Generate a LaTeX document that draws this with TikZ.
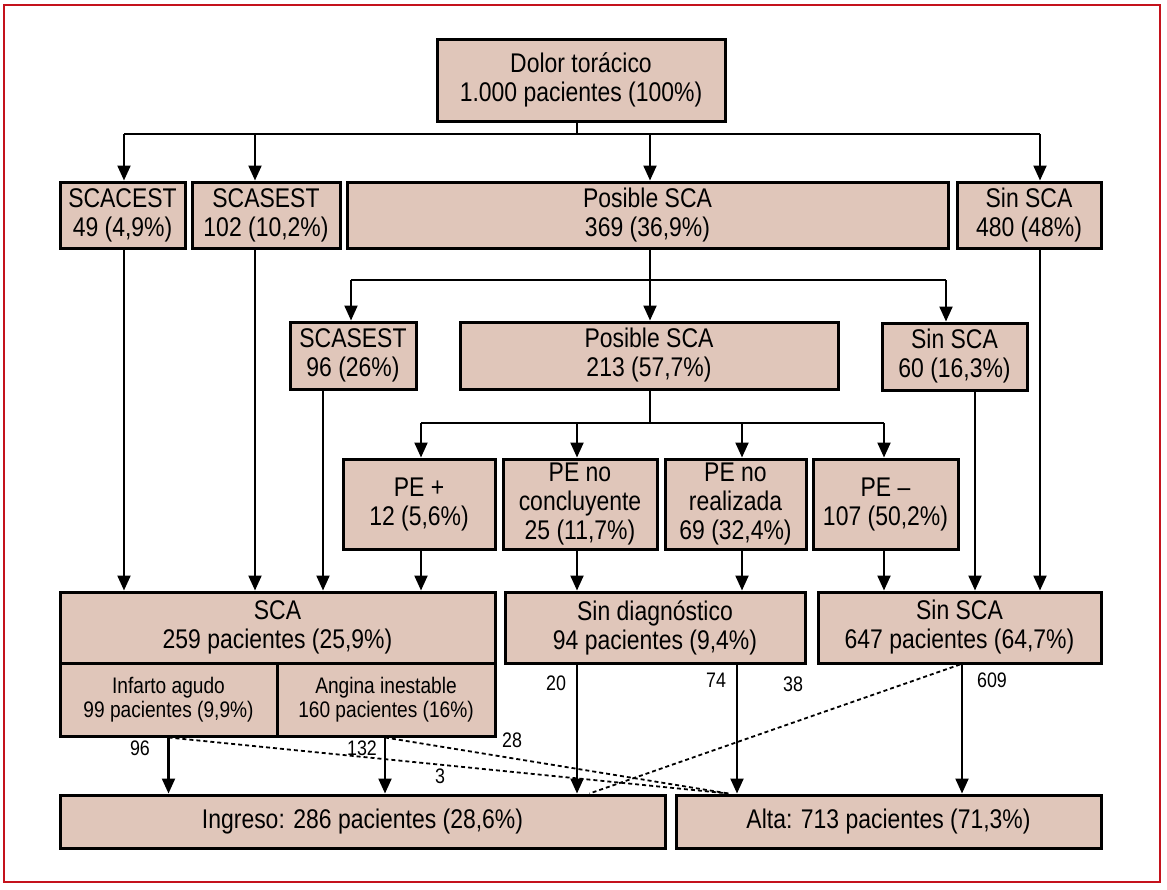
\documentclass[tikz,border=0pt]{standalone}
\usepackage{fontspec}
\setmainfont{Liberation Sans}[FakeStretch=0.85]
\usetikzlibrary{arrows.meta}
\definecolor{boxfill}{RGB}{224,198,186}
\definecolor{frame}{RGB}{196,18,28}
\begin{document}
\begin{tikzpicture}[x=1pt,y=-1pt,
  box/.style={draw=black,fill=boxfill,line width=3pt,inner sep=0pt,align=center,
    font=\fontsize{27}{29}\selectfont},
  subbox/.style={box,font=\fontsize{22.5}{24}\selectfont},
  line/.style={line width=2.2pt},
  arr/.style={line width=2.2pt,-{Triangle[width=13pt,length=15pt]}},
  dashline/.style={line width=1.8pt,dash pattern=on 4pt off 3pt},
  lbl/.style={inner sep=0pt,font=\fontsize{21}{22}\selectfont}]
\useasboundingbox (0,0) rectangle (1167,889);
\draw[frame,line width=2.2pt] (4,5) rectangle (1160,882);

% row 1
\node[box,minimum width=288pt,minimum height=82pt] (dolor) at (581,80) {Dolor torácico\\1.000 pacientes (100\%)};
% row 2
\node[box,minimum width=125pt,minimum height=66pt] (scacest) at (122.5,215) {SCACEST\\49 (4,9\%)};
\node[box,minimum width=148pt,minimum height=66pt] (scasestA) at (266,215) {SCASEST\\102 (10,2\%)};
\node[box,minimum width=601pt,minimum height=66pt] (posA) at (647.5,215) {Posible SCA\\369 (36,9\%)};
\node[box,minimum width=144pt,minimum height=66pt] (sinA) at (1029,215) {Sin SCA\\480 (48\%)};
% row 3
\node[box,minimum width=126pt,minimum height=67pt] (scasestB) at (353,355.5) {SCASEST\\96 (26\%)};
\node[box,minimum width=378pt,minimum height=67pt] (posB) at (649,355.5) {Posible SCA\\213 (57,7\%)};
\node[box,minimum width=145pt,minimum height=67pt] (sinB) at (954.5,356.5) {Sin SCA\\60 (16,3\%)};
% row 4
\node[box,minimum width=152pt,minimum height=90pt] (pe1) at (419,504) {PE +\\12 (5,6\%)};
\node[box,minimum width=154pt,minimum height=90pt] (pe2) at (580,504) {PE no\\concluyente\\25 (11,7\%)};
\node[box,minimum width=141pt,minimum height=90pt] (pe3) at (735.5,504) {PE no\\realizada\\69 (32,4\%)};
\node[box,minimum width=145pt,minimum height=90pt] (pe4) at (885.5,504) {PE --\\107 (50,2\%)};
% row 5
\node[box,minimum width=435pt,minimum height=71pt] (sca) at (277.5,627.5) {SCA\\259 pacientes (25,9\%)};
\node[subbox,minimum width=217pt,minimum height=73pt] (infarto) at (168.5,699.5) {Infarto agudo\\99 pacientes (9,9\%)};
\node[subbox,minimum width=218pt,minimum height=73pt] (angina) at (386,699.5) {Angina inestable\\160 pacientes (16\%)};
\node[box,minimum width=300pt,minimum height=71pt] (sindiag) at (655,627.5) {Sin diagnóstico\\94 pacientes (9,4\%)};
\node[box,minimum width=283pt,minimum height=71pt] (sinC) at (959.5,627.5) {Sin SCA\\647 pacientes (64,7\%)};
% row 6
\node[box,minimum width=605pt,minimum height=53pt] (ingreso) at (362.5,821.5) {Ingreso: 286 pacientes (28,6\%)};
\node[box,minimum width=425pt,minimum height=53pt] (alta) at (888.5,821.5) {Alta: 713 pacientes (71,3\%)};

% buses
\coordinate (bus1) at (0,134);
\coordinate (bus2) at (0,280);
\coordinate (bus3) at (0,423);

% level 1 -> 2
\draw[line] ([xshift=-4pt]dolor.south) -- ([xshift=-4pt]dolor.south |- bus1);
\draw[line] ([xshift=1.5pt]scacest.north |- bus1) -- ([xshift=11pt]sinA.north |- bus1);
\draw[arr] ([xshift=1.5pt]scacest.north |- bus1) -- ([xshift=1.5pt]scacest.north);
\draw[arr] ([xshift=-11pt]scasestA.north |- bus1) -- ([xshift=-11pt]scasestA.north);
\draw[arr] ([xshift=2.5pt]posA.north |- bus1) -- ([xshift=2.5pt]posA.north);
\draw[arr] ([xshift=11pt]sinA.north |- bus1) -- ([xshift=11pt]sinA.north);

% level 2 -> 3
\draw[line] ([xshift=2.5pt]posA.south) -- ([xshift=2.5pt]posA.south |- bus2);
\draw[line] ([xshift=-2pt]scasestB.north |- bus2) -- ([xshift=-8.5pt]sinB.north |- bus2);
\draw[arr] ([xshift=-2pt]scasestB.north |- bus2) -- ([xshift=-2pt]scasestB.north);
\draw[arr] ([xshift=1pt]posB.north |- bus2) -- ([xshift=1pt]posB.north);
\draw[arr] ([xshift=-8.5pt]sinB.north |- bus2) -- ([xshift=-8.5pt]sinB.north);

% level 3 -> 4
\draw[line] ([xshift=1pt]posB.south) -- ([xshift=1pt]posB.south |- bus3);
\draw[line] ([xshift=2pt]pe1.north |- bus3) -- ([xshift=-1.5pt]pe4.north |- bus3);
\draw[arr] ([xshift=2pt]pe1.north |- bus3) -- ([xshift=2pt]pe1.north);
\draw[arr] ([xshift=-3pt]pe2.north |- bus3) -- ([xshift=-3pt]pe2.north);
\draw[arr] ([xshift=6.5pt]pe3.north |- bus3) -- ([xshift=6.5pt]pe3.north);
\draw[arr] ([xshift=-1.5pt]pe4.north |- bus3) -- ([xshift=-1.5pt]pe4.north);

% down to row 5
\draw[arr] ([xshift=1.5pt]scacest.south) -- ([xshift=1.5pt]scacest.south |- sca.north);
\draw[arr] ([xshift=-11pt]scasestA.south) -- ([xshift=-11pt]scasestA.south |- sca.north);
\draw[arr] ([xshift=-30pt]scasestB.south) -- ([xshift=-30pt]scasestB.south |- sca.north);
\draw[arr] ([xshift=2pt]pe1.south) -- ([xshift=2pt]pe1.south |- sca.north);
\draw[arr] ([xshift=-3pt]pe2.south) -- ([xshift=-3pt]pe2.south |- sindiag.north);
\draw[arr] ([xshift=6.5pt]pe3.south) -- ([xshift=6.5pt]pe3.south |- sindiag.north);
\draw[arr] ([xshift=-1.5pt]pe4.south) -- ([xshift=-1.5pt]pe4.south |- sinC.north);
\draw[arr] ([xshift=20.5pt]sinB.south) -- ([xshift=20.5pt]sinB.south |- sinC.north);
\draw[arr] ([xshift=11pt]sinA.south) -- ([xshift=11pt]sinA.south |- sinC.north);

% down to row 6
\draw[arr] (infarto.south) -- (infarto.south |- ingreso.north);
\draw[arr] ([xshift=-1pt]angina.south) -- ([xshift=-1pt]angina.south |- ingreso.north);
\draw[arr] ([xshift=-78pt]sindiag.south) -- ([xshift=-78pt]sindiag.south |- ingreso.north);
\draw[arr] ([xshift=82pt]sindiag.south) -- ([xshift=82pt]sindiag.south |- alta.north);
\draw[arr] ([xshift=2.5pt]sinC.south) -- ([xshift=2.5pt]sinC.south |- alta.north);

% dashed cross flows
\coordinate (altaj) at ([xshift=54pt]alta.north west);
\coordinate (ingj) at ([xshift=-77pt]ingreso.north east);
\draw[dashline] (infarto.south) -- (altaj);
\draw[dashline] ([xshift=-1pt]angina.south) -- (altaj);
\draw[dashline] ([xshift=0.5pt]sinC.south) -- (ingj);

% labels
\node[lbl] (l96) at (140,748) {96};
\node[lbl] (l132) at (362,748) {132};
\node[lbl] (l28) at (512,740) {28};
\node[lbl] (l3) at (440,776) {3};
\node[lbl] (l20) at (556,683) {20};
\node[lbl] (l74) at (716,680) {74};
\node[lbl] (l38) at (793,684) {38};
\node[lbl] (l609) at (992,680) {609};
\end{tikzpicture}
\end{document}
